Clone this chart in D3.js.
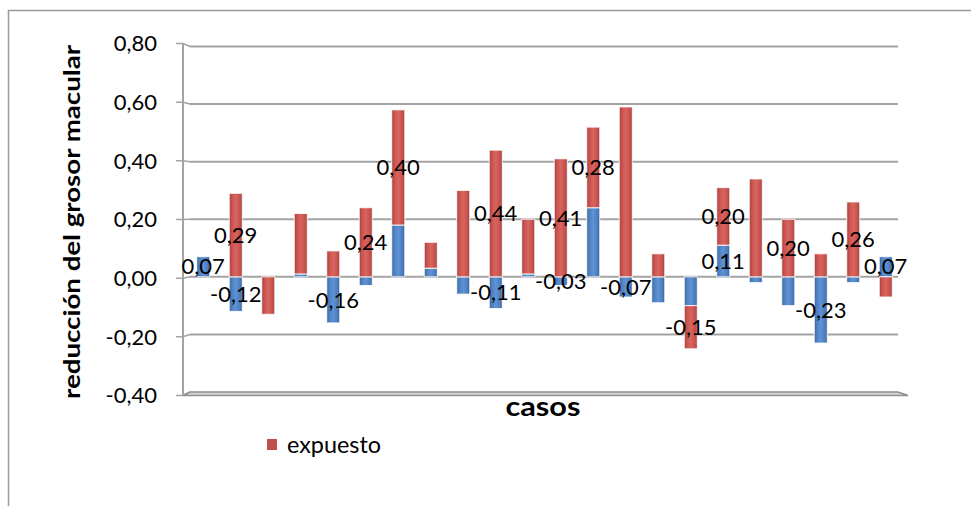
<!DOCTYPE html>
<html>
<head>
<meta charset="utf-8">
<script src="https://cdn.jsdelivr.net/npm/d3@7"></script>
<style>
  html, body { margin: 0; padding: 0; background: #fff; }
  svg { display: block; }
  text { font-family: Lato, "Open Sans", sans-serif; fill: #000; }
</style>
</head>
<body>
<svg id="chart" width="971" height="506"></svg>
<script>
// ---- data ----
const casos = ["1","2","3","4","5","6","7","8","9","10","11","12","13","14","15","16","17","18","19","20","21","22"];
const serie1 = [0.07, -0.12, 0.00, 0.01, -0.16, -0.03, 0.18, 0.03, -0.06, -0.11, 0.01, -0.03, 0.24, -0.07, -0.09, -0.10, 0.11, -0.02, -0.10, -0.23, -0.02, 0.07];
const expuesto = [0.00, 0.29, -0.13, 0.21, 0.09, 0.24, 0.40, 0.09, 0.30, 0.44, 0.19, 0.41, 0.28, 0.59, 0.08, -0.15, 0.20, 0.34, 0.20, 0.08, 0.26, -0.07];
// which data labels are visible (1 = shown)
const labelSerie1   = [1,1,0,0,1,0,0,0,0,1,0,1,0,1,0,0,1,0,0,1,0,1];
const labelExpuesto = [0,1,0,0,0,1,1,0,0,1,0,1,1,0,0,1,1,0,1,0,1,0];
const yTicks = [-0.40, -0.20, 0.00, 0.20, 0.40, 0.60, 0.80];
const yTitle = "reducción del grosor macular";
const xTitle = "casos";
const legendName = "expuesto";

// ---- build ----
const svg = d3.select("#chart");
const locale = d3.formatLocale({ decimal: ",", thousands: ".", grouping: [3], currency: ["", "€"], minus: "-" });
const fmt = locale.format(".2f");

// outer border
svg.append("path")
  .attr("d", "M8.5,506 L8.5,10.5 L971,10.5")
  .attr("fill", "none").attr("stroke", "#9a9a9a").attr("stroke-width", 1.5);

const back = { left: 190, right: 898 };
const frontX = 183;
const y = d3.scaleLinear().domain([-0.4, 0.8]).range([392, 46.5]);      // back wall
const yFront = d3.scaleLinear().domain([-0.4, 0.8]).range([395.5, 43.5]); // front axis
const x = d3.scaleBand().domain(casos).range([187, 902]).paddingInner(0.6).paddingOuter(0.3);

// gradients
const defs = svg.append("defs");
function grad(id, stops) {
  const g = defs.append("linearGradient").attr("id", id).attr("x1", "0%").attr("x2", "100%").attr("y1", "0%").attr("y2", "0%");
  stops.forEach(s => g.append("stop").attr("offset", s[0]).attr("stop-color", s[1]));
}
grad("gBlue", [["0%", "#3b66a0"], ["20%", "#4f80c0"], ["50%", "#5e93d6"], ["85%", "#4a7bbd"], ["100%", "#375f95"]]);
grad("gRed",  [["0%", "#a43f3c"], ["20%", "#c9524f"], ["50%", "#d8655f"], ["85%", "#c4504c"], ["100%", "#9c3a37"]]);

// gridlines (back wall) + front ticks
const grid = svg.append("g");
yTicks.forEach(t => {
  if (t > -0.4) {
    grid.append("line")
      .attr("x1", back.left).attr("x2", back.right)
      .attr("y1", y(t)).attr("y2", y(t))
      .attr("stroke", "#a3a3a3").attr("stroke-width", 2);
  }
  grid.append("path")
    .attr("d", `M176,${yFront(t)} L${frontX},${yFront(t)} L${back.left},${y(t)}`)
    .attr("fill", "none").attr("stroke", "#a3a3a3").attr("stroke-width", 1.5);
});

// floor slab
svg.append("path")
  .attr("d", `M${frontX},${yFront(-0.4)} L${back.left},${y(-0.4)} L${back.right},${y(-0.4)} L908,${yFront(-0.4)} Z`)
  .attr("fill", "#d4d4d4").attr("stroke", "#8f8f8f").attr("stroke-width", 1.5);

// vertical axis line
svg.append("line")
  .attr("x1", frontX).attr("x2", frontX)
  .attr("y1", yFront(0.8)).attr("y2", yFront(-0.4))
  .attr("stroke", "#a3a3a3").attr("stroke-width", 2);

// tick labels
svg.append("g").selectAll("text").data(yTicks).join("text")
  .attr("x", 157).attr("y", d => yFront(d))
  .attr("dy", "0.35em").attr("text-anchor", "end")
  .style("font-size", "22px")
  .text(d => fmt(d));

// stacked bars
const rows = casos.map((c, i) => ({ caso: c, serie1: serie1[i], expuesto: expuesto[i] }));
const stack = d3.stack().keys(["serie1", "expuesto"]).offset(d3.stackOffsetDiverging)(rows);
const fills = { serie1: "url(#gBlue)", expuesto: "url(#gRed)" };
const shows = { serie1: labelSerie1, expuesto: labelExpuesto };

const barsG = svg.append("g");
stack.forEach(layer => {
  barsG.append("g").selectAll("rect").data(layer.filter(d => d[1] !== d[0])).join("rect")
    .attr("x", d => x(d.data.caso))
    .attr("width", x.bandwidth())
    .attr("y", d => y(Math.max(d[0], d[1])))
    .attr("height", d => Math.abs(y(d[0]) - y(d[1])))
    .attr("fill", fills[layer.key])
    .attr("stroke", "#ffffff").attr("stroke-opacity", 0.85).attr("stroke-width", 1);
});

// data labels
const labG = svg.append("g");
stack.forEach(layer => {
  labG.append("g").selectAll("text").data(layer.filter((d, i) => shows[layer.key][i])).join("text")
    .attr("x", d => x(d.data.caso) + x.bandwidth() / 2)
    .attr("y", d => y((d[0] + d[1]) / 2))
    .attr("dy", "0.35em").attr("text-anchor", "middle")
    .style("font-size", "22px")
    .text(d => fmt(d.data[layer.key]));
});

// axis titles
svg.append("text")
  .attr("transform", `translate(80,222) rotate(-90)`)
  .attr("text-anchor", "middle")
  .attr("textLength", 354).attr("lengthAdjust", "spacingAndGlyphs")
  .style("font-size", "22px").style("font-weight", "bold")
  .text(yTitle);

svg.append("text")
  .attr("x", 543).attr("y", 416)
  .attr("text-anchor", "middle")
  .attr("textLength", 75).attr("lengthAdjust", "spacingAndGlyphs")
  .style("font-size", "26px").style("font-weight", "bold")
  .text(xTitle);

// legend
svg.append("rect").attr("x", 267).attr("y", 439).attr("width", 10).attr("height", 11).attr("fill", "#c0504d");
svg.append("text").attr("x", 287).attr("y", 444.5).attr("dy", "0.35em")
  .attr("textLength", 94).attr("lengthAdjust", "spacingAndGlyphs")
  .style("font-size", "23px").text(legendName);
</script>
</body>
</html>
